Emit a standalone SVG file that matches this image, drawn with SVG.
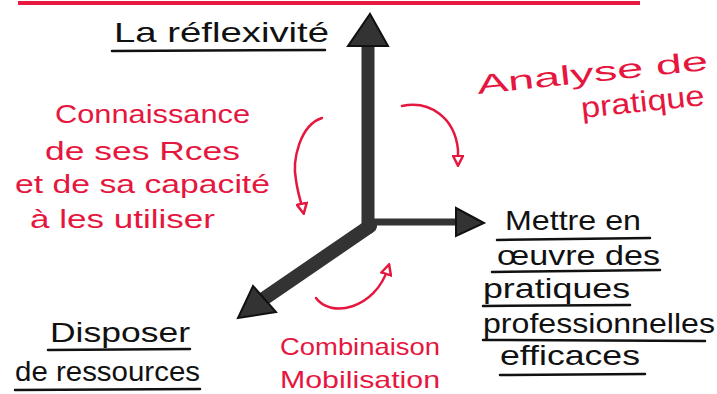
<svg xmlns="http://www.w3.org/2000/svg" width="717" height="394" viewBox="0 0 717 394">
<defs>
<style>
.blk{font-family:"Liberation Sans","DejaVu Sans",sans-serif;fill:#111;}
.red{font-family:"Liberation Sans","DejaVu Sans",sans-serif;fill:#e5173f;}
.ul{stroke:#111;stroke-width:2.5;fill:none;stroke-linecap:round;}
.ax{stroke:#333;fill:none;stroke-linecap:round;}
.rc{stroke:#e5173f;stroke-width:2.5;fill:none;stroke-linecap:round;}
</style>
<marker id="rh" viewBox="0 0 10 10" refX="6" refY="5" markerWidth="5" markerHeight="5" orient="auto" markerUnits="strokeWidth">
<path d="M1,1 L9,5 L1,9 Z" fill="#fff" stroke="#e5173f" stroke-width="2"/>
</marker>
</defs>
<rect width="717" height="394" fill="#fff"/>
<line x1="18" y1="3" x2="640" y2="3" stroke="#e8193f" stroke-width="4"/>
<g id="connectors">
<line class="ax" x1="368" y1="228" x2="368" y2="44" stroke-width="13"/>
<polygon points="348,46 388,46 370,14" fill="#333" stroke="#111" stroke-width="2"/>
<line class="ax" x1="372" y1="222" x2="460" y2="222" stroke-width="7"/>
<polygon points="456,208 456,236 484,223" fill="#333" stroke="#111" stroke-width="2"/>
<line class="ax" x1="370" y1="226" x2="262" y2="300" stroke-width="14"/>
<polygon points="253,286 276,312 238,318" fill="#333" stroke="#111" stroke-width="2"/>
<path class="rc" d="M322,118 C300,125 292,160 296,180 C298,195 302,205 303,210" marker-end="url(#rh)"/>
<path class="rc" d="M402,106 C430,100 455,118 458,150 L458,162" marker-end="url(#rh)"/>
<path class="rc" d="M316,298 C330,318 375,310 388,268" marker-end="url(#rh)"/>
</g>
<g id="reflexivite">
<text class="blk" x="114" y="42" font-size="28" textLength="215" lengthAdjust="spacingAndGlyphs">La réflexivité</text>
<line class="ul" x1="112" y1="51" x2="325" y2="50"/>
</g>
<g id="connaissance">
<text class="red" x="55" y="123" font-size="25" textLength="195" lengthAdjust="spacingAndGlyphs">Connaissance</text>
<text class="red" x="45" y="160" font-size="25" textLength="195" lengthAdjust="spacingAndGlyphs">de ses Rces</text>
<text class="red" x="15" y="193" font-size="25" textLength="255" lengthAdjust="spacingAndGlyphs">et de sa capacité</text>
<text class="red" x="30" y="228" font-size="25" textLength="185" lengthAdjust="spacingAndGlyphs">à les utiliser</text>
</g>
<g id="analyse">
<text class="red" x="478" y="94" font-size="27" transform="rotate(-6 478 94)" textLength="232" lengthAdjust="spacingAndGlyphs">Analyse de</text>
<text class="red" x="582" y="118" font-size="29" transform="rotate(-6 582 118)" textLength="124" lengthAdjust="spacingAndGlyphs">pratique</text>
</g>
<g id="mettre">
<text class="blk" x="505" y="230" font-size="28" textLength="136" lengthAdjust="spacingAndGlyphs">Mettre en</text>
<line class="ul" x1="497" y1="240" x2="650" y2="238"/>
<text class="blk" x="497" y="265" font-size="28" textLength="163" lengthAdjust="spacingAndGlyphs">œuvre des</text>
<line class="ul" x1="492" y1="272" x2="660" y2="270"/>
<text class="blk" x="483" y="298" font-size="28" textLength="147" lengthAdjust="spacingAndGlyphs">pratiques</text>
<line class="ul" x1="483" y1="306" x2="630" y2="305"/>
<text class="blk" x="483" y="333" font-size="28" textLength="232" lengthAdjust="spacingAndGlyphs">professionnelles</text>
<line class="ul" x1="483" y1="340" x2="705" y2="341"/>
<text class="blk" x="500" y="365" font-size="28" textLength="140" lengthAdjust="spacingAndGlyphs">efficaces</text>
<line class="ul" x1="500" y1="375" x2="645" y2="374"/>
</g>
<g id="disposer">
<text class="blk" x="50" y="342" font-size="27" textLength="140" lengthAdjust="spacingAndGlyphs">Disposer</text>
<line class="ul" x1="48" y1="350" x2="190" y2="349"/>
<text class="blk" x="15" y="381" font-size="27" textLength="185" lengthAdjust="spacingAndGlyphs">de ressources</text>
<line class="ul" x1="15" y1="390" x2="200" y2="389"/>
</g>
<g id="combinaison">
<text class="red" x="280" y="355" font-size="24" textLength="160" lengthAdjust="spacingAndGlyphs">Combinaison</text>
<text class="red" x="280" y="388" font-size="24" textLength="160" lengthAdjust="spacingAndGlyphs">Mobilisation</text>
</g>
</svg>
